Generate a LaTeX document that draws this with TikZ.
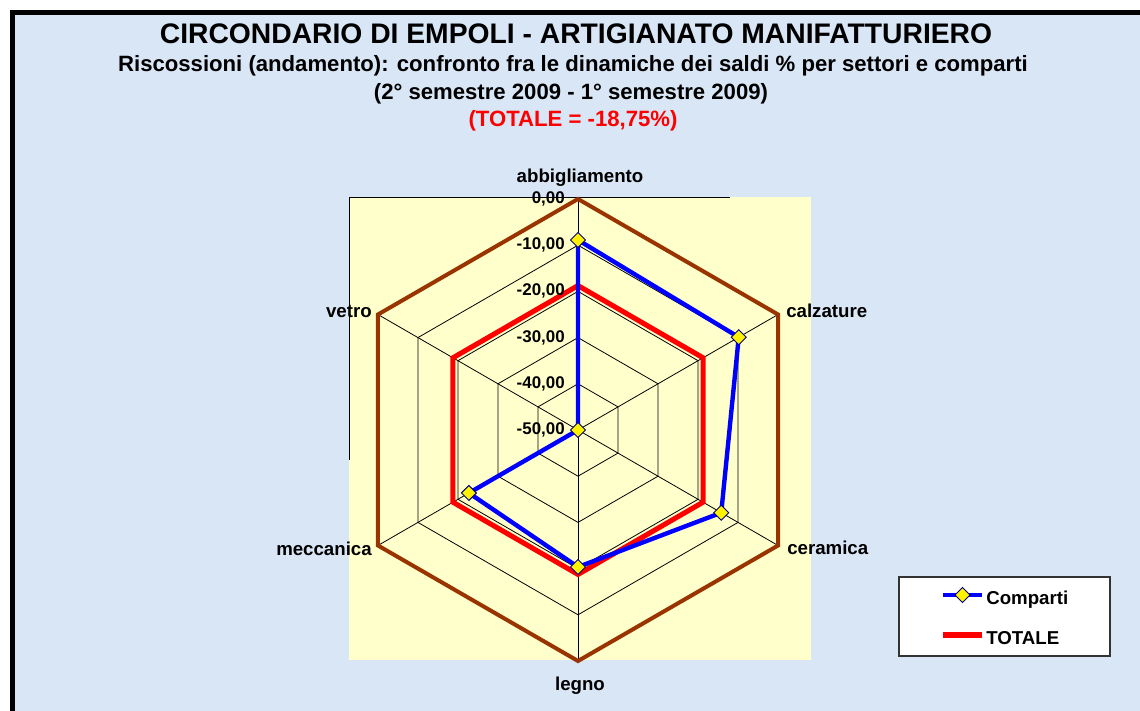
\documentclass[tikz,border=0pt]{standalone}
\usepackage{fontspec}
\setmainfont{Liberation Sans}
\usetikzlibrary{shapes.geometric, positioning, calc}
\definecolor{sfondo}{RGB}{217,230,246}
\definecolor{areagrafico}{RGB}{255,255,204}
\definecolor{marrone}{RGB}{153,51,0}
\definecolor{blunotte}{RGB}{0,0,128}
\tikzset{
	griglia/.style={black, line width=0.6pt},
	bordo/.style={marrone, line width=3pt, line join=miter},
	totale/.style={red, line width=3.8pt, line join=miter},
	comparti/.style={blue, line width=3.3pt, line join=round},
	marker/.style={diamond, draw=blunotte, fill=yellow, line width=0.7pt, inner sep=0pt, minimum width=11.5pt, minimum height=11.5pt},
	titolo/.style={font=\fontsize{21.2}{25}\selectfont\bfseries, anchor=base, inner sep=0pt},
	sottotitolo/.style={font=\fontsize{16.6}{19}\selectfont\bfseries, anchor=base, inner sep=0pt},
	asse/.style={font=\fontsize{14}{16}\selectfont\bfseries, anchor=base, inner sep=0pt},
	tacca/.style={font=\fontsize{12.7}{15}\selectfont\bfseries, anchor=east, inner sep=0pt},
	voce/.style={font=\fontsize{14}{16}\selectfont\bfseries, anchor=west, inner sep=0pt},
}

\begin{document}
\begin{tikzpicture}[x=0.75pt, y=0.75pt]
	\useasboundingbox (0,0) rectangle (1140,711);
	\fill[white] (0,0) rectangle (1140,711);
	\filldraw[fill=sfondo, draw=black, line width=3.75pt] (12.5,-30) rectangle (1170,698.5);
	
	% titoli
	\node[titolo] (TITLE) at (576,667) {CIRCONDARIO DI EMPOLI - ARTIGIANATO MANIFATTURIERO};
	\node[sottotitolo] (SUB) at (573,639) {Riscossioni (andamento): confronto fra le dinamiche dei saldi \% per settori e comparti};
	\node[sottotitolo] (PERIOD) at (571,611) {(2° semestre 2009 - 1° semestre 2009)};
	\node[sottotitolo, red] (TOT) at (573,584) {(TOTALE = -18,75\%)};
	
	% area del grafico
	\fill[areagrafico] (349,51) rectangle (811,514);
	\draw[griglia] (349,251) -- (349,514) -- (730,514);
	
	\begin{scope}[shift={(578,281)}]
		\foreach \r in {46.2,92.4,138.6,184.8}
			\draw[griglia] (90:\r) \foreach \a in {30,-30,-90,-150,150} { -- (\a:\r) } -- cycle;
		\foreach \a in {90,30,-30,-90,-150,150}
			\draw[griglia] (0,0) -- (\a:231);
		\draw[bordo] (90:231) \foreach \a in {30,-30,-90,-150,150} { -- (\a:231) } -- cycle;
		
		% TOTALE = -18,75
		\draw[totale] (90:144.4) \foreach \a in {30,-30,-90,-150,150} { -- (\a:144.4) } -- cycle;
		
		% comparti
		\coordinate (ABBv) at (90:190);
		\coordinate (CALv) at (30:185.6);
		\coordinate (CERv) at (-30:165.4);
		\coordinate (LEGv) at (-90:137);
		\coordinate (MECv) at (-150:126);
		\coordinate (VETv) at (150:0);
		\draw[comparti] (ABBv) -- (CALv) -- (CERv) -- (LEGv) -- (MECv) -- (VETv) -- cycle;
		\foreach \p in {ABBv,CALv,CERv,LEGv,MECv,VETv}
			\node[marker] (M\p) at (\p) {};
	\end{scope}
	
	% etichette della scala
	\foreach \k/\testo in {0/{0,00},1/{-10,00},2/{-20,00},3/{-30,00},4/{-40,00},5/{-50,00}}
		\node[tacca] (T\k) at (565,{512-46.2*\k}) {\testo};
	
	% etichette dei settori
	\node[asse] (ABB) at (580,528) {abbigliamento};
	\node[asse, anchor=base west] (CAL) at (786,393) {calzature};
	\node[asse, anchor=base west] (CER) at (787,156) {ceramica};
	\node[asse] (LEG) at (580,20) {legno};
	\node[asse, anchor=base east] (MEC) at (372,155) {meccanica};
	\node[asse, anchor=base east] (VET) at (372,393) {vetro};
	
	% legenda
	\filldraw[fill=white, draw=black!80, line width=0.8pt] (899,55) rectangle (1110,134);
	\coordinate (L1a) at (943,116);
	\coordinate (L1b) at (982,116);
	\coordinate (L2a) at (943,76);
	\coordinate (L2b) at (982,76);
	\draw[comparti, line cap=butt] (L1a) -- (L1b);
	\node[marker] (LM) at ($(L1a)!0.5!(L1b)$) {};
	\draw[totale, line cap=butt] (L2a) -- (L2b);
	\node[voce] (COMP) at (986,111) {Comparti};
	\node[voce] (TOTALE) at (986,73) {TOTALE};
\end{tikzpicture}
\end{document}
